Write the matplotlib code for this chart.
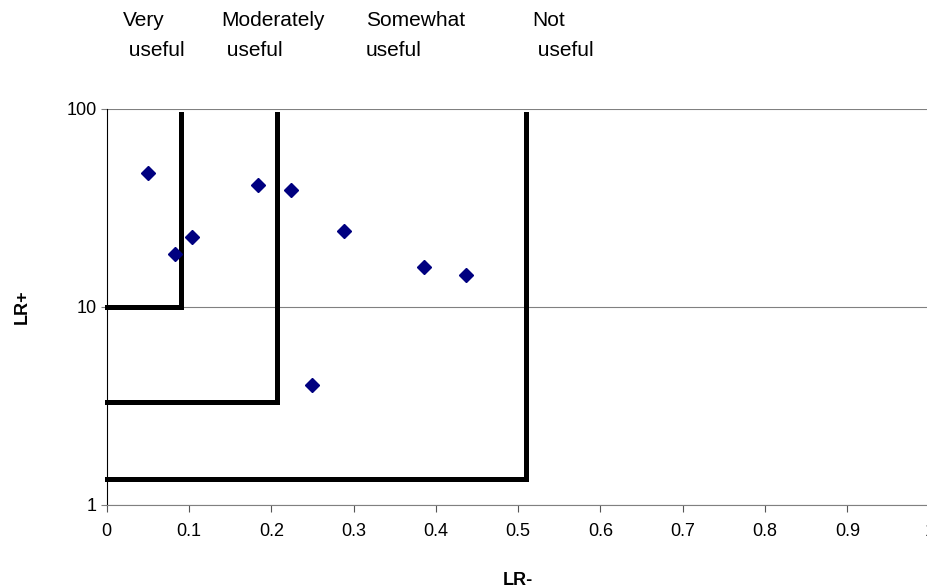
import matplotlib
matplotlib.use("Agg")
import matplotlib.pyplot as plt

plt.rcParams["font.family"] = ["Liberation Sans", "DejaVu Sans"]

# study points (LR-, LR+)
lr_neg = [0.050, 0.083, 0.104, 0.184, 0.224, 0.250, 0.288, 0.385, 0.437]
lr_pos = [47.7, 18.5, 22.6, 41.2, 39.0, 4.04, 24.1, 15.9, 14.5]

# usefulness boundaries: corner (LR-, LR+) of each step line
bound_x = [0.090, 0.207, 0.510]
bound_y = [10.0, 3.32, 1.36]
bound_top = 94

x_ticks = [0, 0.1, 0.2, 0.3, 0.4, 0.5, 0.6, 0.7, 0.8, 0.9, 1]
x_labels = ["0", "0.1", "0.2", "0.3", "0.4", "0.5", "0.6", "0.7", "0.8", "0.9", "1"]
y_ticks = [1, 10, 100]
y_labels = ["1", "10", "100"]

headers = ["Very\n useful", "Moderately\n useful", "Somewhat\nuseful", "Not\n useful"]
header_x = [123, 221, 366, 532]  # pixel left edges

fig = plt.figure(figsize=(9.27, 5.88), dpi=100)
ax = fig.add_axes([0.1151, 0.1412, 0.8878, 0.6735])

ax.set_yscale("log")
ax.set_xlim(0, 1)
ax.set_ylim(1, 100)

for bx, by in zip(bound_x, bound_y):
    ax.plot([0, bx, bx], [by, by, bound_top], color="black", lw=3.6,
            solid_joinstyle="miter", zorder=3, clip_on=False)

ax.plot(lr_neg, lr_pos, linestyle="none", marker="D", ms=7.6,
        color="#000080", mec="#000080", zorder=4)

ax.set_xticks(x_ticks)
ax.set_xticklabels(x_labels, fontsize=13)
ax.set_yticks(y_ticks)
ax.set_yticklabels(y_labels, fontsize=13)
ax.minorticks_off()
ax.tick_params(axis="x", direction="out", length=5, width=0.8, colors="#555555",
               labelcolor="black", pad=8)
ax.tick_params(axis="y", direction="out", length=4, width=0.8, colors="#808080",
               labelcolor="black", pad=3)

ax.grid(axis="y", color="#808080", lw=0.8)
ax.set_axisbelow(True)
for side in ["top", "right"]:
    ax.spines[side].set_visible(False)
ax.spines["left"].set_color("black")
ax.spines["left"].set_linewidth(0.8)
ax.spines["bottom"].set_color("#808080")
ax.spines["bottom"].set_linewidth(0.8)

ax.set_xlabel("LR-", fontsize=13, fontweight="bold", labelpad=23)
ax.set_ylabel("LR+", fontsize=13, fontweight="bold", labelpad=26)

for txt, px in zip(headers, header_x):
    fig.text(px / 927, 1 - 11 / 588, txt, fontsize=15, ha="left", va="top",
             linespacing=1.75)

fig.savefig("out.png", dpi=100)
